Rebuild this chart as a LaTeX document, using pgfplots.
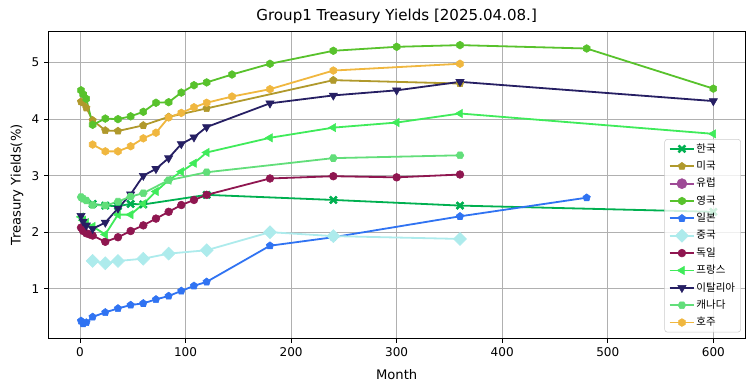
\documentclass[border=0pt]{standalone}
\usepackage{fontspec}
\setmainfont{DejaVu Sans}
\newfontfamily\cjk{Noto Sans CJK KR}
\usepackage{pgfplots}
\pgfplotsset{compat=1.18}

\definecolor{kr}{HTML}{00B050}
\definecolor{us}{HTML}{B0992C}
\definecolor{eu}{HTML}{9E4A96}
\definecolor{uk}{HTML}{58C22C}
\definecolor{jp}{HTML}{3073F2}
\definecolor{cn}{HTML}{ADEBEC}
\definecolor{de}{HTML}{8F1650}
\definecolor{fr}{HTML}{3FEB5A}
\definecolor{it}{HTML}{261F63}
\definecolor{ca}{HTML}{62DE7A}
\definecolor{au}{HTML}{F0B73F}

\pgfdeclareplotmark{X*}{%
  \pgfpathmoveto{\pgfqpoint{0pt}{0.35\pgfplotmarksize}}%
  \pgfpathlineto{\pgfqpoint{0.65\pgfplotmarksize}{\pgfplotmarksize}}%
  \pgfpathlineto{\pgfqpoint{\pgfplotmarksize}{0.65\pgfplotmarksize}}%
  \pgfpathlineto{\pgfqpoint{0.35\pgfplotmarksize}{0pt}}%
  \pgfpathlineto{\pgfqpoint{\pgfplotmarksize}{-0.65\pgfplotmarksize}}%
  \pgfpathlineto{\pgfqpoint{0.65\pgfplotmarksize}{-\pgfplotmarksize}}%
  \pgfpathlineto{\pgfqpoint{0pt}{-0.35\pgfplotmarksize}}%
  \pgfpathlineto{\pgfqpoint{-0.65\pgfplotmarksize}{-\pgfplotmarksize}}%
  \pgfpathlineto{\pgfqpoint{-\pgfplotmarksize}{-0.65\pgfplotmarksize}}%
  \pgfpathlineto{\pgfqpoint{-0.35\pgfplotmarksize}{0pt}}%
  \pgfpathlineto{\pgfqpoint{-\pgfplotmarksize}{0.65\pgfplotmarksize}}%
  \pgfpathlineto{\pgfqpoint{-0.65\pgfplotmarksize}{\pgfplotmarksize}}%
  \pgfpathclose
  \pgfusepathqfillstroke
}
\pgfdeclareplotmark{hexagon*}{%
  \pgfpathmoveto{\pgfpointpolar{90}{\pgfplotmarksize}}%
  \pgfpathlineto{\pgfpointpolar{150}{\pgfplotmarksize}}%
  \pgfpathlineto{\pgfpointpolar{210}{\pgfplotmarksize}}%
  \pgfpathlineto{\pgfpointpolar{270}{\pgfplotmarksize}}%
  \pgfpathlineto{\pgfpointpolar{330}{\pgfplotmarksize}}%
  \pgfpathlineto{\pgfpointpolar{30}{\pgfplotmarksize}}%
  \pgfpathclose
  \pgfusepathqfillstroke
}

\begin{document}
\begin{tikzpicture}
\begin{axis}[name=ax, scale only axis, width=501.6bp, height=221.3bp,
  xmin=-30, xmax=630, ymin=0.12, ymax=5.56,
  xtick={0,100,200,300,400,500,600}, ytick={1,2,3,4,5},
  grid=major, grid style={color=black!31, line width=0.6bp},
  axis line style={line width=0.6bp},
  tick align=outside, tick pos=left, major tick length=3bp,
  tick style={black, line width=0.6bp},
  ticklabel style={font=\fontsize{8.7}{10}\selectfont},
  /pgf/number format/assume math mode=true,
  xlabel={Month}, ylabel={Treasury Yields(\%)},
  label style={font=\fontsize{9.5}{11}\selectfont},
  xlabel style={at={(axis description cs:0.5,-0.1165)}, anchor=center},
  ylabel style={at={(axis description cs:-0.0449,0.5)}, anchor=center},
  title={Group1 Treasury Yields [2025.04.08.]},
  every axis title/.style={at={(axis description cs:0.5,1.049)}, anchor=center, font=\fontsize{10.9}{12}\selectfont},
  every axis plot/.append style={line width=1.3bp, mark size=2.8bp},
  legend cell align=left,
  legend style={at={(axis description cs:1,0)}, anchor=south east, xshift=-2.9bp, yshift=4.3bp,
    draw=black!20, rounded corners=2bp, fill=white, fill opacity=0.8, draw opacity=1, text opacity=1,
    font=\cjk\fontsize{7.6}{8.5}\selectfont, row sep=2.7bp, inner sep=2bp, inner xsep=3bp,
    nodes={inner sep=1bp, text height=6.2bp, text depth=1.6bp}},
  legend image code/.code={\draw[mark repeat=2,mark phase=2,fill opacity=1,#1] plot coordinates {(0bp,0bp)(8.8bp,0bp)(17.6bp,0bp)};},
]
\addplot[color=kr, mark=X*, mark options={line width=0.4bp}] coordinates {
(12,2.50) (24,2.47) (36,2.46) (48,2.50) (60,2.49) (120,2.66) (240,2.57) (360,2.47) (600,2.36)};
\addlegendentry{한국}
\addplot[color=us, mark=pentagon*, mark options={line width=0.4bp}] coordinates {
(1,4.31) (3,4.29) (6,4.20) (12,3.98) (24,3.80) (36,3.79) (60,3.89) (84,4.04) (120,4.19) (240,4.69) (360,4.63)};
\addlegendentry{미국}
\addlegendimage{color=eu, mark=*, line width=1.3bp, mark size=3.6bp, mark options={line width=0.4bp}}
\addlegendentry{유럽}
\addplot[color=uk, mark=hexagon*, mark options={line width=0.4bp}] coordinates {
(1,4.51) (3,4.44) (6,4.36) (12,3.90) (24,4.01) (36,4.00) (48,4.05) (60,4.13) (72,4.29) (84,4.30) (96,4.47) (108,4.60) (120,4.65) (144,4.79) (180,4.98) (240,5.21) (300,5.28) (360,5.31) (480,5.25) (600,4.54)};
\addlegendentry{영국}
\addplot[color=jp, mark=pentagon*, mark options={line width=0.4bp}] coordinates {
(1,0.43) (3,0.38) (6,0.40) (12,0.50) (24,0.58) (36,0.65) (48,0.71) (60,0.74) (72,0.81) (84,0.87) (96,0.96) (108,1.05) (120,1.12) (180,1.76) (240,1.91) (360,2.28) (480,2.61)};
\addlegendentry{일본}
\addplot[color=cn, mark=square*, mark size=3.3bp, mark options={rotate=45, line width=0.4bp}] coordinates {
(12,1.49) (24,1.45) (36,1.49) (60,1.53) (84,1.62) (120,1.68) (180,2.00) (240,1.93) (360,1.88)};
\addlegendentry{중국}
\addplot[color=de, mark=*, mark options={line width=0.4bp}] coordinates {
(1,2.08) (3,2.02) (6,1.98) (9,1.96) (12,1.94) (24,1.83) (36,1.91) (48,2.02) (60,2.12) (72,2.24) (84,2.36) (96,2.48) (108,2.57) (120,2.66) (180,2.95) (240,2.99) (300,2.97) (360,3.02)};
\addlegendentry{독일}
\addplot[color=fr, mark=triangle*, mark size=3.4bp, mark options={rotate=90, line width=0.4bp}] coordinates {
(1,2.27) (3,2.21) (6,2.17) (12,2.10) (24,1.96) (36,2.31) (48,2.31) (60,2.50) (72,2.72) (84,2.92) (96,3.07) (108,3.22) (120,3.41) (180,3.67) (240,3.85) (300,3.94) (360,4.10) (600,3.74)};
\addlegendentry{프랑스}
\addplot[color=it, mark=triangle*, mark size=3.4bp, mark options={rotate=180, line width=0.4bp}] coordinates {
(1,2.29) (3,2.19) (6,2.12) (12,2.06) (24,2.17) (36,2.42) (48,2.67) (60,3.00) (72,3.12) (84,3.31) (96,3.56) (108,3.68) (120,3.86) (180,4.28) (240,4.42) (300,4.51) (360,4.66) (600,4.32)};
\addlegendentry{이탈리아}
\addplot[color=ca, mark=hexagon*, mark options={rotate=30, line width=0.4bp}] coordinates {
(1,2.62) (3,2.59) (6,2.56) (12,2.48) (24,2.47) (36,2.54) (48,2.63) (60,2.69) (84,2.92) (120,3.06) (240,3.31) (360,3.36)};
\addlegendentry{캐나다}
\addplot[color=au, mark=hexagon*, mark options={line width=0.4bp}] coordinates {
(12,3.55) (24,3.43) (36,3.43) (48,3.52) (60,3.66) (72,3.76) (84,4.03) (96,4.11) (108,4.21) (120,4.29) (144,4.40) (180,4.53) (240,4.86) (360,4.98)};
\addlegendentry{호주}
\end{axis}
\pgfresetboundingbox
\path[use as bounding box] ([xshift=-34.78bp,yshift=-37.94bp]ax.south west) rectangle ([xshift=7.2bp,yshift=22.32bp]ax.north east);
\end{tikzpicture}
\end{document}
